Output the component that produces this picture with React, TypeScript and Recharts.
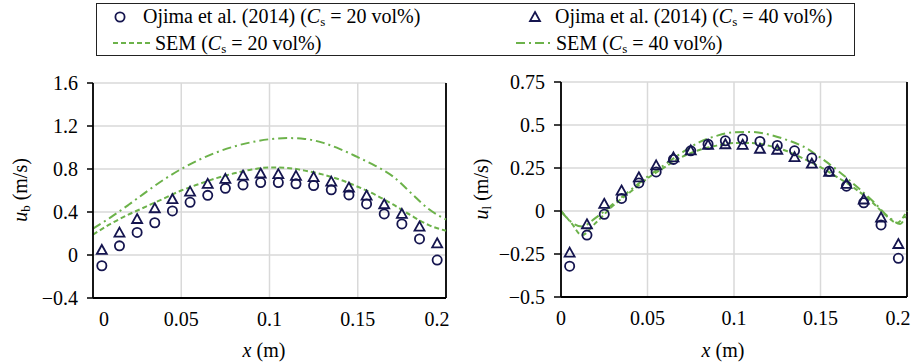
import React from "react";
import {
    ComposedChart,
    Scatter,
    Line,
    XAxis,
    YAxis,
    CartesianGrid,
    ReferenceLine,
} from "recharts";

// measured positions (m), same for both experiments
const xObs = [0.005, 0.015, 0.025, 0.035, 0.045, 0.055, 0.065, 0.075, 0.085, 0.095,
    0.105, 0.115, 0.125, 0.135, 0.145, 0.155, 0.165, 0.175, 0.185, 0.195];

// u_b, Ojima et al. (2014)
const ubObs20 = [-0.1, 0.085, 0.21, 0.3, 0.41, 0.49, 0.555, 0.62, 0.652, 0.674,
    0.674, 0.662, 0.646, 0.606, 0.559, 0.475, 0.382, 0.289, 0.149, -0.047];
const ubObs40 = [0.047, 0.208, 0.335, 0.435, 0.519, 0.59, 0.662, 0.708, 0.739, 0.758,
    0.752, 0.736, 0.724, 0.683, 0.628, 0.553, 0.472, 0.382, 0.264, 0.109];

// u_b, SEM
const ubSemX = [0, 0.01, 0.02, 0.03, 0.04, 0.05, 0.06, 0.07, 0.08, 0.09, 0.1,
    0.11, 0.12, 0.13, 0.14, 0.15, 0.16, 0.17, 0.18, 0.19, 0.2];
const ubSem20 = [0.19, 0.29, 0.375, 0.45, 0.525, 0.6, 0.66, 0.715, 0.76, 0.795, 0.815,
    0.81, 0.785, 0.75, 0.7, 0.635, 0.56, 0.47, 0.37, 0.28, 0.225];
const ubSem40 = [0.245, 0.35, 0.465, 0.585, 0.7, 0.8, 0.885, 0.955, 1.01, 1.05, 1.077,
    1.088, 1.08, 1.045, 0.985, 0.91, 0.83, 0.73, 0.58, 0.43, 0.33];

// u_l, Ojima et al. (2014)
const ulObs20 = [-0.321, -0.14, -0.019, 0.073, 0.163, 0.227, 0.3, 0.35, 0.388, 0.408,
    0.419, 0.404, 0.381, 0.35, 0.308, 0.231, 0.144, 0.048, -0.081, -0.275];
const ulObs40 = [-0.242, -0.077, 0.042, 0.119, 0.196, 0.265, 0.312, 0.352, 0.385, 0.388,
    0.385, 0.362, 0.356, 0.313, 0.275, 0.227, 0.158, 0.067, -0.038, -0.192];

// u_l, SEM
const ulSem20X = [0, 0.006, 0.012, 0.02, 0.03, 0.04, 0.05, 0.06, 0.07, 0.08, 0.09, 0.1,
    0.11, 0.12, 0.13, 0.14, 0.15, 0.16, 0.17, 0.18, 0.19, 0.194, 0.2];
const ulSem20 = [0, -0.07, -0.14, -0.07, 0.03, 0.11, 0.19, 0.255, 0.315, 0.355, 0.38, 0.395,
    0.395, 0.38, 0.35, 0.305, 0.255, 0.195, 0.13, 0.05, -0.045, -0.07, 0];
const ulSem40X = [0, 0.006, 0.012, 0.02, 0.03, 0.04, 0.05, 0.06, 0.07, 0.08, 0.09, 0.1,
    0.11, 0.12, 0.13, 0.14, 0.15, 0.16, 0.17, 0.18, 0.19, 0.196, 0.2];
const ulSem40 = [0, -0.065, -0.09, -0.04, 0.04, 0.12, 0.2, 0.27, 0.34, 0.4, 0.437, 0.458,
    0.46, 0.445, 0.415, 0.375, 0.31, 0.235, 0.15, 0.06, -0.04, -0.075, -0.01];

const xTicks = [0, 0.05, 0.1, 0.15, 0.2];
const ubTicks = [-0.4, 0, 0.4, 0.8, 1.2, 1.6];
const ulTicks = [-0.5, -0.25, 0, 0.25, 0.5, 0.75];

const NAVY = "#15154f";
const GREEN = "#6cb24a";
const FONT = "Liberation Serif";
const FS = 20;
const DASH = "5 3";
const DASHDOT = "9 4 2 4";

const pts = (xs: number[], ys: number[]) => xs.map((x, i) => ({ x, y: ys[i] }));
const fmt = (v: number) => (v < 0 ? "\u2212" + String(-v) : String(v));

const CircleMark = (p: any) => (
    <circle cx={p.cx} cy={p.cy} r={4.6} fill="none" stroke={NAVY} strokeWidth={1.8} />
);
const TriMark = (p: any) => (
    <polygon
        points={`${p.cx},${p.cy - 5} ${p.cx + 5},${p.cy + 4} ${p.cx - 5},${p.cy + 4}`}
        fill="none"
        stroke={NAVY}
        strokeWidth={1.8}
    />
);

// Excel pulls the end labels inwards
const makeXTick = (shiftFirst: number, shiftLast: number) => (p: any) => {
    const v = p.payload.value;
    let dx = 0;
    if (v === 0) dx = shiftFirst;
    if (v === 0.2) dx = shiftLast;
    return (
        <text x={p.x + dx} y={p.y} dy={26} textAnchor="middle" style={{ fontSize: FS, fontFamily: FONT }} fill="#000">
            {fmt(v)}
        </text>
    );
};

const makeYTick = (p: any) => (
    <text x={p.x} y={p.y} dy={7} textAnchor="end" style={{ fontSize: FS, fontFamily: FONT }} fill="#000">
        {fmt(p.payload.value)}
    </text>
);

interface PanelProps {
    left: number;
    width: number;
    yAxisWidth: number;
    margin: { top: number; right: number; bottom: number; left: number };
    yDomain: [number, number];
    yTicks: number[];
    tickSize: number;
    obs20: { x: number; y: number }[];
    obs40: { x: number; y: number }[];
    sem20: { x: number; y: number }[];
    sem40: { x: number; y: number }[];
    shiftFirst: number;
    shiftLast: number;
}

const Panel = (props: PanelProps) => (
    <div style={{ position: "absolute", left: props.left, top: 0 }}>
        <ComposedChart width={props.width} height={362} margin={props.margin}>
            <CartesianGrid stroke="#d9d9d9" strokeWidth={1.5} />
            <XAxis
                type="number"
                dataKey="x"
                domain={[0, 0.2]}
                ticks={xTicks}
                interval={0}
                height={34}
                tickLine={false}
                tickSize={0}
                axisLine={{ stroke: "#000", strokeWidth: 1.8 }}
                tick={makeXTick(props.shiftFirst, props.shiftLast)}
            />
            <YAxis
                type="number"
                dataKey="y"
                domain={props.yDomain}
                ticks={props.yTicks}
                interval={0}
                width={props.yAxisWidth}
                tickSize={props.tickSize}
                tickMargin={9}
                axisLine={{ stroke: "#000", strokeWidth: 1.8 }}
                tickLine={{ stroke: "#000", strokeWidth: 1.5 }}
                tick={makeYTick}
            />
            <ReferenceLine x={0.2} stroke="#000" strokeWidth={1.8} />
            <Line data={props.sem40} dataKey="y" type="monotone" stroke={GREEN} strokeWidth={2}
                strokeDasharray={DASHDOT} dot={false} isAnimationActive={false} />
            <Line data={props.sem20} dataKey="y" type="monotone" stroke={GREEN} strokeWidth={2}
                strokeDasharray={DASH} dot={false} isAnimationActive={false} />
            <Scatter data={props.obs40} dataKey="y" shape={TriMark} isAnimationActive={false} />
            <Scatter data={props.obs20} dataKey="y" shape={CircleMark} isAnimationActive={false} />
        </ComposedChart>
    </div>
);

const txt: React.CSSProperties = {
    position: "absolute",
    whiteSpace: "nowrap",
    fontSize: FS,
    lineHeight: "22px",
    color: "#000",
    fontFamily: FONT,
};
const sub: React.CSSProperties = { fontSize: 13, verticalAlign: "-3px" };

const LegendText = ({ label, cs }: { label: string; cs: string }) => (
    <>
        {label} (<i>C</i>
        <span style={sub}>s</span> = {cs} vol%)
    </>
);

const App: React.FC = () => {
    return (
        <div
            style={{
                position: "absolute",
                left: 0,
                top: 0,
                width: 911,
                height: 362,
                background: "#fff",
                fontFamily: FONT,
                fontSize: FS,
                overflow: "hidden",
            }}
        >
            <Panel
                left={0}
                width={455}
                yAxisWidth={93}
                margin={{ top: 83, right: 9, bottom: 30, left: 0 }}
                yDomain={[-0.4, 1.6]}
                yTicks={ubTicks}
                tickSize={6}
                obs20={pts(xObs, ubObs20)}
                obs40={pts(xObs, ubObs40)}
                sem20={pts(ubSemX, ubSem20)}
                sem40={pts(ubSemX, ubSem40)}
                shiftFirst={11}
                shiftLast={-9}
            />
            <Panel
                left={455}
                width={456}
                yAxisWidth={106}
                margin={{ top: 82, right: 4, bottom: 31, left: 0 }}
                yDomain={[-0.5, 0.75]}
                yTicks={ulTicks}
                tickSize={7}
                obs20={pts(xObs, ulObs20)}
                obs40={pts(xObs, ulObs40)}
                sem20={pts(ulSem20X, ulSem20)}
                sem40={pts(ulSem40X, ulSem40)}
                shiftFirst={0}
                shiftLast={-9}
            />

            {/* axis titles */}
            <div style={{ ...txt, left: 23, top: 190, transform: "translate(-50%, -50%) rotate(-90deg)" }}>
                <i>u</i>
                <span style={sub}>b</span> (m/s)
            </div>
            <div style={{ ...txt, left: 484, top: 189, transform: "translate(-50%, -50%) rotate(-90deg)" }}>
                <i>u</i>
                <span style={sub}>l</span> (m/s)
            </div>
            <div style={{ ...txt, left: 264, top: 350, transform: "translate(-50%, -50%)" }}>
                <i>x</i> (m)
            </div>
            <div style={{ ...txt, left: 723, top: 350, transform: "translate(-50%, -50%)" }}>
                <i>x</i> (m)
            </div>

            {/* legend */}
            <div
                style={{
                    position: "absolute",
                    left: 96,
                    top: 3,
                    width: 757,
                    height: 51,
                    border: "1.5px solid #222",
                }}
            />
            <svg style={{ position: "absolute", left: 0, top: 0 }} width={911} height={60}>
                <CircleMark cx={120} cy={17} />
                <TriMark cx={535} cy={17} />
                <line x1={113} y1={43} x2={150} y2={43} stroke={GREEN} strokeWidth={2} strokeDasharray={DASH} />
                <line x1={516} y1={43} x2={552} y2={43} stroke={GREEN} strokeWidth={2} strokeDasharray={DASHDOT} />
            </svg>
            <div style={{ ...txt, left: 143, top: 5 }}>
                <LegendText label="Ojima et al. (2014)" cs="20" />
            </div>
            <div style={{ ...txt, left: 555, top: 5 }}>
                <LegendText label="Ojima et al. (2014)" cs="40" />
            </div>
            <div style={{ ...txt, left: 155, top: 32 }}>
                <LegendText label="SEM" cs="20" />
            </div>
            <div style={{ ...txt, left: 556, top: 32 }}>
                <LegendText label="SEM" cs="40" />
            </div>
        </div>
    );
};

export default App;
